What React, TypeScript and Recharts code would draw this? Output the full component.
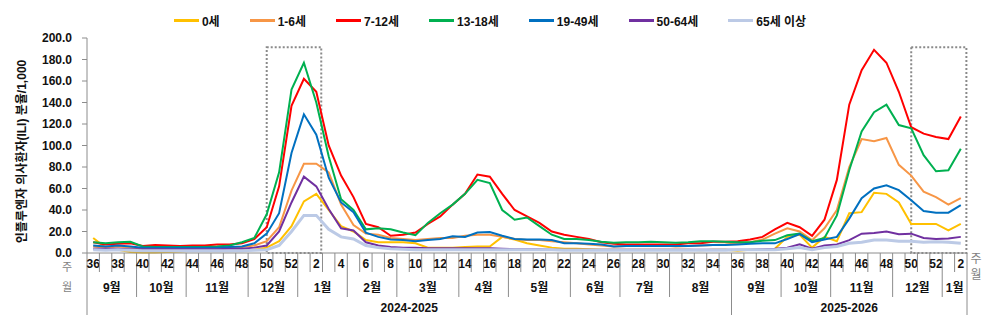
import React from 'react';
import { LineChart, Line, XAxis, YAxis, ReferenceArea, Legend } from 'recharts';

const FONT = "'Liberation Sans', 'Noto Sans CJK KR', sans-serif";
const AXIS = '#8c8c8c';

// ISO week numbers, 2024 w36 .. 2026 w2
const weeks = [
  36, 37, 38, 39, 40, 41, 42, 43, 44, 45, 46, 47, 48, 49, 50, 51, 52,
  1, 2, 3, 4, 5, 6, 7, 8, 9, 10, 11, 12, 13, 14, 15, 16, 17, 18, 19, 20, 21, 22, 23, 24, 25, 26, 27, 28, 29, 30, 31, 32, 33, 34, 35,
  36, 37, 38, 39, 40, 41, 42, 43, 44, 45, 46, 47, 48, 49, 50, 51, 52, 1, 2,
];

const monthNames = ['9월', '10월', '11월', '12월', '1월', '2월', '3월', '4월', '5월', '6월', '7월', '8월', '9월', '10월', '11월', '12월', '1월'];
const monthWeekCounts = [4, 4, 5, 4, 4, 4, 5, 4, 5, 4, 4, 5, 4, 4, 5, 4, 2];
const seasonNames = ['2024-2025', '2025-2026'];
const seasonWeekCounts = [52, 19];
const yTicks = [0, 20, 40, 60, 80, 100, 120, 140, 160, 180, 200];

const age0 = [
  14, 5, 3, 1, 0.5, 0.5, 1, 1.5, 2, 2, 2, 2, 2.5, 3, 5, 11, 25,
  48, 55, 40, 25, 20, 12, 10, 10, 10, 9, 5, 5, 5, 5.5, 6, 6, 15, 12.5, 9, 7, 5, 4, 4, 3.5, 3, 3, 3, 3, 3, 3, 3, 3, 2.5, 3, 3,
  2, 3, 3, 4, 15, 17, 5, 15, 11, 37, 38, 56, 55, 47, 27, 27, 27, 21, 27,
];
const age1to6 = [
  6, 5, 6, 5, 4.5, 4.5, 4.5, 4.5, 4.5, 5, 5, 5, 5.5, 7, 11, 24, 58,
  83, 83, 75, 45, 26, 18, 17, 14, 13, 12, 13, 14, 14, 16, 17, 17, 15, 13, 12, 12, 11, 10, 9, 8, 7, 6, 6.5, 7, 7, 7, 6, 6.5, 7, 7.5, 8,
  9, 10, 12.5, 18, 23, 20, 12, 23, 40, 80, 106, 104, 107, 82, 72, 57, 52, 45, 51,
];
const age7to12 = [
  10, 8, 8.5, 9, 6.5, 7.5, 7, 6.5, 7, 7, 8, 8, 9, 13, 24, 62, 137,
  162, 150, 100, 72, 52, 27, 24, 16, 17, 19, 27, 34, 45, 55, 73, 71, 55, 40, 34, 28, 20, 17, 15, 13, 10, 8.5, 8, 8, 8, 8, 8, 9, 9, 10.5, 10.5,
  11, 12.5, 15, 22, 28, 24, 16, 31, 68, 138, 170, 189, 177, 150, 117, 111, 108, 106, 127,
];
const age13to18 = [
  10, 9, 10, 10.5, 6, 5.5, 5.5, 5.5, 5.5, 5.5, 6, 7, 10, 14, 36, 75, 152,
  177, 140, 90, 50, 40, 22, 23, 22, 19, 16.5, 28, 37, 45, 55, 68, 65, 40, 31, 33, 25, 17, 13, 13, 12, 10.5, 9.5, 10, 10, 10.5, 10, 9.5, 10, 11, 11, 10.5,
  10, 10, 11.5, 12, 16.5, 18, 11, 14, 35, 77, 113, 131, 138, 119, 116, 91, 76, 77, 97,
];
const age19to49 = [
  7, 6, 7, 6, 5, 5, 5, 5, 5, 5, 5, 5.5, 6, 9, 18, 37, 93,
  129, 110, 70, 47, 38, 19, 15, 12.5, 12, 11, 12, 13, 15.5, 15, 19, 19.5, 16, 13, 12.5, 12.5, 12, 9, 9, 8.5, 8, 6, 6.5, 6.5, 6.5, 6.5, 6.5, 6.5, 7, 7.5, 7.5,
  8, 8.5, 9, 9, 13, 17.5, 10, 12.5, 15, 32, 51, 60, 63, 58.5, 49, 39, 37.5, 37.5, 44.5,
];
const age50to64 = [
  4, 4, 4, 3.5, 3.5, 3.5, 3.5, 3.5, 3.5, 3.5, 3.5, 4, 4, 5, 7, 20, 47,
  71, 62, 41, 23, 21, 10, 7, 5.5, 5, 5, 4.5, 4.5, 4.5, 4.5, 4.5, 4.5, 4, 3.5, 3.5, 3.5, 3, 3, 3, 3, 3, 3, 3, 3, 3, 3, 3, 3, 3, 3, 3,
  3, 3, 3.5, 4, 5, 8, 4, 7, 8, 12, 18, 18.5, 20, 17.5, 18, 14, 13, 13.5, 15,
];
const age65plus = [
  3, 2.5, 3, 2.5, 2, 2, 2, 2, 2, 2, 2, 2, 2, 2.5, 3, 7, 20,
  35, 35, 22, 15, 13, 7, 5, 4, 3.5, 3, 3, 3, 3, 3, 3, 3, 3, 3, 3, 3, 3, 2.5, 2.5, 2.5, 2.5, 2.5, 2.5, 2.5, 2.5, 2.5, 2.5, 2.5, 2.5, 2.5, 2.5,
  3, 3, 3, 3, 4, 5, 3, 5, 6, 9, 10, 12, 12, 11, 11, 10, 10.5, 10, 9,
];

const series = [
  { key: 'a0', name: '0세', color: '#FFC000', values: age0, width: 2 },
  { key: 'a1', name: '1-6세', color: '#F79646', values: age1to6, width: 2 },
  { key: 'a2', name: '7-12세', color: '#FF0000', values: age7to12, width: 2 },
  { key: 'a3', name: '13-18세', color: '#00B050', values: age13to18, width: 2 },
  { key: 'a4', name: '19-49세', color: '#0070C0', values: age19to49, width: 2 },
  { key: 'a5', name: '50-64세', color: '#7030A0', values: age50to64, width: 2 },
  { key: 'a6', name: '65세 이상', color: '#BCCAE6', values: age65plus, width: 3 },
];

const data = weeks.map((w, i) => {
  const row: any = { i, week: w };
  series.forEach((s) => { row[s.key] = s.values[i]; });
  return row;
});

// axis structure derived from the category groupings
const weekTicks: number[] = [-0.5];
weeks.forEach((_, i) => { weekTicks.push(i); weekTicks.push(i + 0.5); });
const monthBounds: number[] = [];
const monthCenters: number[] = [];
{
  let acc = 0;
  monthWeekCounts.forEach((c) => { monthCenters.push(acc + c / 2 - 0.5); acc += c; monthBounds.push(acc - 0.5); });
}
const seasonBounds: number[] = [-0.5];
const seasonCenters: number[] = [];
{
  let acc = 0;
  seasonWeekCounts.forEach((c) => { seasonCenters.push(acc + c / 2 - 0.5); acc += c; seasonBounds.push(acc - 0.5); });
}
const lastBound = weeks.length - 0.5;

const WeekTick = (props: any) => {
  const { x, y, payload } = props;
  const v = payload.value;
  if (Number.isInteger(v)) {
    const w = weeks[v];
    if (w % 2 !== 0) return <g />;
    return (
      <text x={x} y={y + 11} dy="0.35em" textAnchor="middle" fontSize={12} fontWeight={700} fontFamily={FONT} fill="#111">
        {w}
      </text>
    );
  }
  const isEdge = seasonBounds.includes(v);
  const isMonth = monthBounds.includes(v);
  const len = isEdge ? 62 : isMonth ? 44 : 19;
  return (
    <g>
      <line x1={x} x2={x} y1={y} y2={y + len} stroke={AXIS} strokeWidth={1} />
      {v === -0.5 && (
        <g fontSize={11} fontFamily={FONT} fill="#7f7f7f">
          <text x={x - 20} y={y + 14} dy="0.35em" textAnchor="middle">주</text>
          <text x={x - 20} y={y + 34} dy="0.35em" textAnchor="middle">월</text>
        </g>
      )}
      {v === lastBound && (
        <g fontSize={12} fontFamily={FONT} fill="#7f7f7f">
          <text x={x + 9} y={y + 6} dy="0.35em" textAnchor="middle">주</text>
          <text x={x + 9} y={y + 22} dy="0.35em" textAnchor="middle">월</text>
        </g>
      )}
    </g>
  );
};

const MonthTick = (props: any) => {
  const { x, y, payload } = props;
  const idx = monthCenters.indexOf(payload.value);
  return (
    <text x={x} y={y + 15} dy="0.35em" textAnchor="middle" fontSize={12} fontWeight={700} fontFamily={FONT} fill="#111">
      {monthNames[idx]}
    </text>
  );
};

const SeasonTick = (props: any) => {
  const { x, y, payload } = props;
  const idx = seasonCenters.indexOf(payload.value);
  return (
    <text x={x} y={y + 11} dy="0.35em" textAnchor="middle" fontSize={12} fontWeight={700} fontFamily={FONT} fill="#111">
      {seasonNames[idx]}
    </text>
  );
};

const YTitle = (props: any) => {
  const vb = props.viewBox || { x: 0, y: 38, width: 87, height: 215 };
  const cx = vb.x + 22;
  const cy = vb.y + vb.height / 2 + 6;
  return (
    <text x={cx} y={cy} transform={`rotate(-90 ${cx} ${cy})`} textAnchor="middle" dy="0.35em" fontSize={12} fontWeight={700} fontFamily={FONT} fill="#111">
      인플루엔자 의사환자(ILI) 분율/1,000
    </text>
  );
};

const renderLegend = () => (
  <div style={{ display: 'flex', justifyContent: 'center', alignItems: 'center', height: 20, paddingRight: 10, fontFamily: FONT }}>
    {series.map((s, k) => (
      <div key={s.key} style={{ display: 'flex', alignItems: 'center', marginLeft: k === 0 ? 0 : 30 }}>
        <div style={{ width: 25, height: 3, background: s.color, marginRight: 3 }} />
        <span style={{ fontSize: 12, fontWeight: 700, color: '#111', whiteSpace: 'nowrap' }}>{s.name}</span>
      </div>
    ))}
  </div>
);

export default function App() {
  return (
    <div style={{ position: 'absolute', left: 0, top: 0, width: 990, height: 325, background: '#fff' }}>
      <LineChart width={990} height={325} data={data} margin={{ top: 38, right: 23, bottom: 0, left: 0 }}>
        <Legend
          verticalAlign="middle"
          align="center"
          layout="horizontal"
          wrapperStyle={{ top: 10, left: 0, width: 990, height: 20 }}
          content={renderLegend}
        />
        <XAxis
          xAxisId="a"
          dataKey="i"
          type="number"
          domain={[-0.5, lastBound]}
          ticks={weekTicks}
          interval={0}
          height={20}
          tickLine={false}
          tickSize={0}
          tickMargin={0}
          axisLine={{ stroke: AXIS, strokeWidth: 1 }}
          tick={<WeekTick />}
        />
        <XAxis
          xAxisId="b"
          dataKey="i"
          type="number"
          domain={[-0.5, lastBound]}
          ticks={monthCenters}
          interval={0}
          height={24}
          tickLine={false}
          tickSize={0}
          tickMargin={0}
          axisLine={false}
          tick={<MonthTick />}
        />
        <XAxis
          xAxisId="c"
          dataKey="i"
          type="number"
          domain={[-0.5, lastBound]}
          ticks={seasonCenters}
          interval={0}
          height={28}
          tickLine={false}
          tickSize={0}
          tickMargin={0}
          axisLine={false}
          tick={<SeasonTick />}
        />
        <YAxis
          width={87}
          domain={[0, 200]}
          ticks={yTicks}
          interval={0}
          tickFormatter={(v: number) => v.toFixed(1)}
          tick={{ fontSize: 12, fontWeight: 700, fill: '#111', fontFamily: FONT }}
          tickSize={5}
          tickMargin={10}
          tickLine={{ stroke: AXIS }}
          axisLine={{ stroke: AXIS }}
          label={<YTitle />}
        />
        <ReferenceArea xAxisId="a" x1={14} x2={18.4} y1={0} y2={191.5} fill="none" stroke="#8a8a8a" strokeWidth={2} strokeDasharray="2 2" />
        <ReferenceArea xAxisId="a" x1={66} x2={70.45} y1={0} y2={191.5} fill="none" stroke="#8a8a8a" strokeWidth={2} strokeDasharray="2 2" />
        {series.map((s) => (
          <Line
            key={s.key}
            xAxisId="a"
            type="linear"
            dataKey={s.key}
            name={s.name}
            stroke={s.color}
            strokeWidth={s.width}
            dot={false}
            activeDot={false}
            isAnimationActive={false}
          />
        ))}
      </LineChart>
    </div>
  );
}
